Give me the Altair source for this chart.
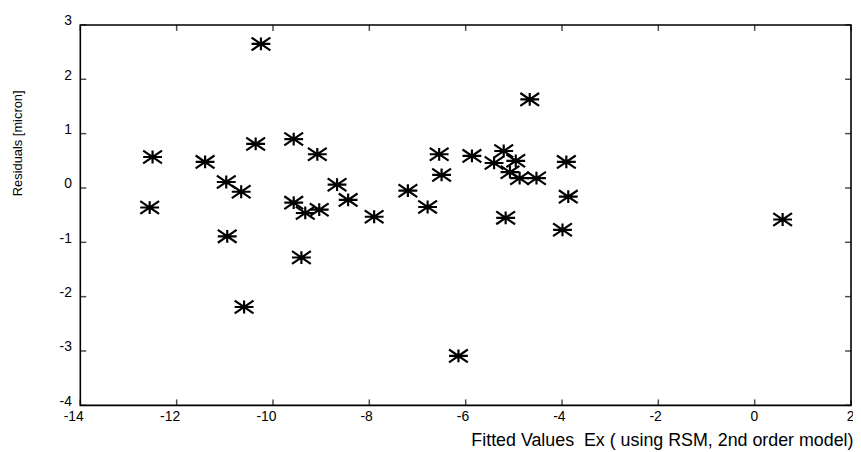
import altair as alt
import pandas as pd

# ---- data ----
fitted = [-10.25, -12.50, -12.56, -11.41, -10.97, -10.66, -10.36, -9.57, -9.08,
          -10.95, -10.60, -9.57, -9.33, -9.04, -9.41, -8.67, -8.44, -7.90,
          -7.20, -6.79, -6.55, -6.50, -5.87, -5.41, -5.21, -4.96, -5.08,
          -4.88, -4.53, -4.67, -5.17, -3.91, -3.87, -3.99, -6.15, 0.58]
resid = [2.65, 0.57, -0.36, 0.48, 0.11, -0.07, 0.81, 0.90, 0.62,
         -0.89, -2.19, -0.27, -0.46, -0.40, -1.28, 0.06, -0.22, -0.53,
         -0.05, -0.35, 0.62, 0.24, 0.59, 0.46, 0.68, 0.50, 0.29,
         0.18, 0.18, 1.63, -0.55, 0.48, -0.16, -0.77, -3.09, -0.58]
x_ticks = [-14, -12, -10, -8, -6, -4, -2, 0, 2]
y_ticks = [-4, -3, -2, -1, 0, 1, 2, 3]
x_domain = [-14, 2]
y_domain = [-4, 3]
x_title = "Fitted Values\u00a0 Ex ( using RSM, 2nd order model)"
y_title = "Residuals [micron]"

df = pd.DataFrame({"fitted": fitted, "resid": resid})
xt = pd.DataFrame({"v": x_ticks})
yt = pd.DataFrame({"v": y_ticks})

FONT = "Liberation Sans"
xscale = alt.Scale(domain=x_domain, nice=False, zero=False)
yscale = alt.Scale(domain=y_domain, nice=False, zero=False)
ASTERISK = "M-1,0L1,0M0,-0.68L0,0.68M-1,-0.68L1,0.68M-1,0.68L1,-0.68"

x_axis = alt.Axis(values=x_ticks, ticks=False, tickSize=0, domain=False, grid=False,
                  labelExpr="datum.value + ''",
                  labelFont=FONT, labelFontSize=14, labelColor="black",
                  labelAlign="right", labelOffset=3, labelBaseline="top",
                  labelPadding=4, labelFlush=False, labelOverlap=False,
                  titleFont=FONT, titleFontSize=18, titleFontWeight="normal",
                  titleColor="black", titleX=780, titleY=27,
                  titleAlign="right", titleBaseline="top")
y_axis = alt.Axis(values=y_ticks, ticks=False, tickSize=0, domain=False, grid=False,
                  labelExpr="datum.value + ''",
                  labelFont=FONT, labelFontSize=14, labelColor="black",
                  labelAlign="right", labelBaseline="alphabetic",
                  labelPadding=9, labelFlush=False, labelOverlap=False,
                  titleFont=FONT, titleFontSize=13, titleFontWeight="normal",
                  titleColor="black", titleX=-63, titleY=119,
                  titleAlign="center", titleBaseline="middle")

points = alt.Chart(df).mark_point(
    shape=ASTERISK, size=361, filled=False, color="black",
    strokeWidth=2.2, opacity=1
).encode(
    x=alt.X("fitted:Q", scale=xscale, title=x_title, axis=x_axis),
    y=alt.Y("resid:Q", scale=yscale, title=y_title, axis=y_axis),
)

tick_style = dict(color="black", thickness=1.5, size=6)

bottom = alt.Chart(xt).mark_tick(orient="vertical", yOffset=-3, **tick_style).encode(
    x=alt.X("v:Q", scale=xscale, title=x_title, axis=x_axis),
    y=alt.datum(y_domain[0], scale=yscale, title=y_title, axis=y_axis))
top = alt.Chart(xt).mark_tick(orient="vertical", yOffset=3, **tick_style).encode(
    x=alt.X("v:Q", scale=xscale, title=x_title, axis=x_axis),
    y=alt.datum(y_domain[1], scale=yscale, title=y_title, axis=y_axis))
left = alt.Chart(yt).mark_tick(orient="horizontal", xOffset=3, **tick_style).encode(
    y=alt.Y("v:Q", scale=yscale, title=y_title, axis=y_axis),
    x=alt.datum(x_domain[0], scale=xscale, title=x_title, axis=x_axis))
right = alt.Chart(yt).mark_tick(orient="horizontal", xOffset=-3, **tick_style).encode(
    y=alt.Y("v:Q", scale=yscale, title=y_title, axis=y_axis),
    x=alt.datum(x_domain[1], scale=xscale, title=x_title, axis=x_axis))

chart = alt.layer(points, bottom, top, left, right).properties(
    width=778, height=384,
    autosize=alt.AutoSizeParams(type="none"),
    padding={"left": 73, "top": 15, "right": 2, "bottom": 45},
    background="white",
).configure_view(stroke="black", strokeWidth=1.6)

chart.save("out.html", embed_options={"renderer": "svg", "actions": False})
